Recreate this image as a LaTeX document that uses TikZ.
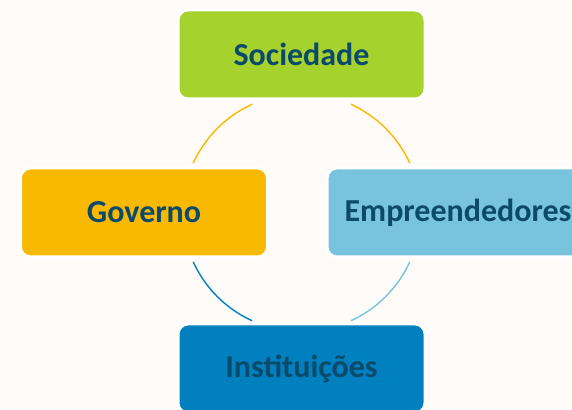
\documentclass[tikz,border=0pt]{standalone}
\usepackage{fontspec}
\setmainfont{Carlito}
\usetikzlibrary{positioning}

\definecolor{bgpaper}{HTML}{FFFBF8}
\definecolor{txtnavy}{HTML}{0C4A6C}
\definecolor{socgreen}{HTML}{A5D22C}
\definecolor{govorange}{HTML}{F9B900}
\definecolor{empblue}{HTML}{78C4DE}
\definecolor{insblue}{HTML}{0080BF}

\tikzset{
  actor/.style={draw=white, line width=3pt, rounded corners=10pt,
    minimum width=247pt, minimum height=89pt, text=txtnavy,
    font=\fontsize{32}{37}\selectfont\bfseries},
  ring/.style={line width=1.4pt}
}

\begin{document}
\begin{tikzpicture}[x=1pt,y=1pt]
   \fill[bgpaper] (0,0) rectangle (572,409);
   \useasboundingbox (0,0) rectangle (572,409);
   \clip (0,0) rectangle (572,409);
   % hub of the ring
   \coordinate (hub) at (301.5,196.5);
   \draw[ring, govorange] (hub) ++(114.5:119) arc[start angle=114.5, end angle=155.5, radius=119];
   \draw[ring, govorange] (hub) ++(24.5:119) arc[start angle=24.5, end angle=65.5, radius=119];
   \draw[ring, insblue] (hub) ++(204.5:119) arc[start angle=204.5, end angle=245.5, radius=119];
   \draw[ring, empblue] (hub) ++(294.5:119) arc[start angle=294.5, end angle=335.5, radius=119];
   % the four actors
   \node[actor, fill=socgreen] (soc) at (301.5,354.5) {Sociedade};
   \node[actor, fill=govorange] (gov) at (144,196.5) {Governo};
   \node[actor, fill=empblue, minimum width=262pt] (emp) at (458,196.5) {Empreendedores};
   \node[actor, fill=insblue] (ins) at (301.5,40.5) {Instituições};
\end{tikzpicture}
\end{document}
